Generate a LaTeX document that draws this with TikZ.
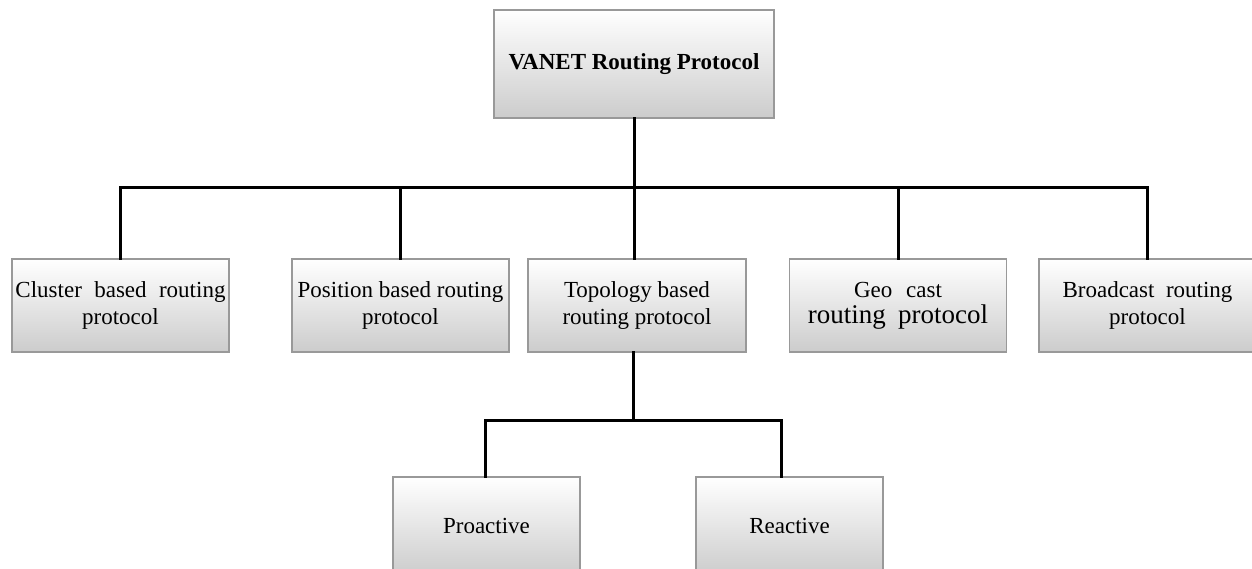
\documentclass[tikz,border=0pt]{standalone}
\usepackage{fontspec}
\setmainfont{Liberation Serif}
\begin{document}
\begin{tikzpicture}[x=1pt,y=-1pt,
  box/.style={draw=black!40,line width=1.3pt,top color=white,bottom color=black!20,
    inner sep=0pt,align=center,font=\fontsize{23}{27}\selectfont},
  lvltwo/.style={box,minimum width=217pt,minimum height=93pt},
  lvlthree/.style={box,minimum width=187pt,minimum height=98pt},
  conn/.style={line width=3pt,line join=miter,line cap=rect}]
\clip (0,0) rectangle (1252,569);
\useasboundingbox (0,0) rectangle (1252,569);

% root
\node[box,minimum width=280pt,minimum height=108pt] (root) at (634,64)
  {\textbf{VANET Routing Protocol}};

% first level
\node[lvltwo] (cl) at (120.5,305.5)
  {\makebox[210pt][s]{Cluster based routing}\\protocol};
\node[lvltwo] (po) at (400.5,305.5) {Position based routing\\protocol};
\node[lvltwo,minimum width=218pt] (to) at (637,305.5) {Topology based\\routing protocol};
\node[lvltwo] (ge) at (898,305.5)
  {Geo\hspace{0.6em}cast\\[-1pt]{\fontsize{27}{30}\selectfont routing\hspace{0.45em}protocol}};
\node[lvltwo] (br) at (1147.5,305.5) {Broadcast\hspace{0.5em}routing\\protocol};

% second level
\node[lvlthree] (pr) at (486.5,526) {Proactive};
\node[lvlthree] (re) at (789.5,526) {Reactive};

% connectors
\coordinate (hub) at (634,188);
\coordinate (sub) at (633,420);
\draw[conn] (root.south) -- (root.south |- hub);
\draw[conn] (cl.north) |- (hub) -| (br.north);
\draw[conn] (po.north) -- (po.north |- hub);
\draw[conn] (hub) -- (hub |- to.north);
\draw[conn] (ge.north) -- (ge.north |- hub);
\draw[conn] (sub |- to.south) -- (sub);
\draw[conn] ([xshift=-1.5pt]pr.north) |- (sub) -| ([xshift=-8.5pt]re.north);
\end{tikzpicture}
\end{document}
